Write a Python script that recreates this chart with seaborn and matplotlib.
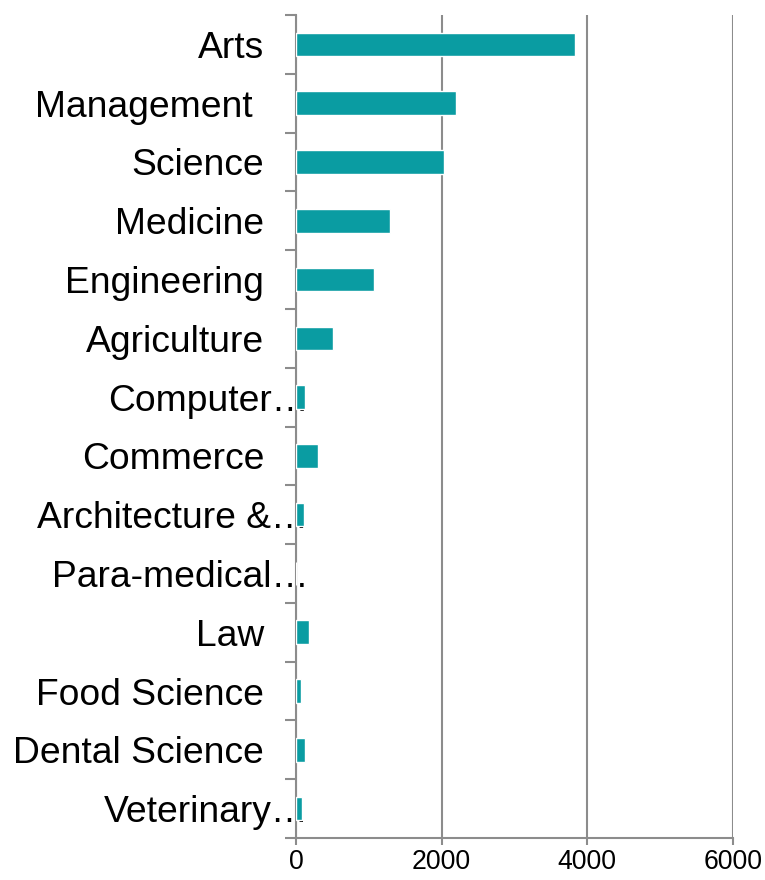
import matplotlib
matplotlib.use("Agg")
import matplotlib.pyplot as plt
import seaborn as sns
import pandas as pd
import numpy as np

# Enrolment by discipline
categories = ["Arts", "Management", "Science", "Medicine", "Engineering",
              "Agriculture", "Computer…", "Commerce", "Architecture &…",
              "Para-medical…", "Law", "Food Science", "Dental Science",
              "Veterinary…"]
values = [3836, 2202, 2037, 1294, 1069, 509, 120, 299, 115, 0, 183, 65, 124, 78]
x_ticks = [0, 2000, 4000, 6000]

df = pd.DataFrame({"category": categories, "value": values})

sns.set_theme(style="white")
plt.rcParams["font.family"] = ["Liberation Sans", "DejaVu Sans"]

BAR = "#0A9CA2"
GRAY = "#8C8C8C"

fig = plt.figure(figsize=(7.65, 8.8), dpi=100)
ax = fig.add_axes([296 / 765, 1 - 838 / 880, 437 / 765, 823 / 880])

sns.barplot(data=df, x="value", y="category", orient="h", color=BAR,
            saturation=1, width=0.4, ax=ax, zorder=3)

ax.set_xlim(0, 6000)
ax.set_ylim(len(categories) - 0.5, -0.5)
ax.set_xticks(x_ticks)
ax.set_xticklabels([str(t) for t in x_ticks])
ax.set_xlabel("")
ax.set_ylabel("")

# vertical gridlines
ax.grid(axis="x", color=GRAY, linewidth=1.5, zorder=0)
ax.grid(axis="y", visible=False)

for side in ["top", "right"]:
    ax.spines[side].set_visible(False)
for side in ["left", "bottom"]:
    ax.spines[side].set_visible(True)
    ax.spines[side].set_color(GRAY)
    ax.spines[side].set_linewidth(1.5)

# category boundary ticks on the y axis
ax.set_yticks(np.arange(len(categories) + 1) - 0.5, minor=True)
ax.tick_params(axis="y", which="minor", length=8, width=1.5, color=GRAY,
               direction="out", left=True)
ax.tick_params(axis="y", which="major", length=0, labelsize=26.8,
               labelcolor="black", pad=23)
ax.tick_params(axis="x", which="major", length=5, width=1.5, color=GRAY,
               direction="out", bottom=True, labelsize=19.2,
               labelcolor="black", pad=3)

# label offsets for the truncated names and the one with trailing space
for tick, name in zip(ax.yaxis.get_major_ticks(), categories):
    if name.endswith("…"):
        tick.set_pad(-9)
    elif name == "Management":
        tick.set_pad(31)

fig.savefig("out.png", dpi=100)
